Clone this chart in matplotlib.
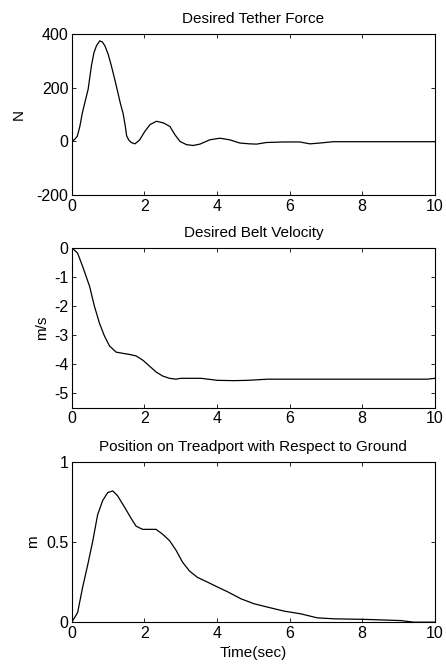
import numpy as np
import matplotlib
matplotlib.use("Agg")
import matplotlib.pyplot as plt

plt.rcParams['font.family'] = ['Liberation Sans', 'DejaVu Sans']

# Desired tether force (N)
force_t = [0, 0.08, 0.15, 0.22, 0.29, 0.37, 0.45, 0.54, 0.61, 0.68, 0.77, 0.84, 0.91, 1.0, 1.09,
           1.18, 1.27, 1.34, 1.41, 1.47, 1.51, 1.57, 1.64, 1.74,
           1.87, 2.01, 2.15, 2.33, 2.52, 2.70, 2.84, 2.98, 3.16, 3.34, 3.53, 3.80, 4.08, 4.35,
           4.63, 4.90, 5.09, 5.36, 5.82, 6.28, 6.56, 6.83, 7.20, 10.0]
force_N = [0, 8, 19, 55, 106, 150, 194, 281, 330, 356, 374, 370, 356, 325, 281,
           232, 181, 140, 106, 60, 21, 5, -4, -9,
           6, 37, 62, 75, 69, 56, 25, 0, -12, -15, -10, 6, 12, 6,
           -6, -9, -10, -4, -2, -2, -9, -6, -1, -1]

# Desired belt velocity (m/s)
vel_t = [0, 0.16, 0.30, 0.49, 0.62, 0.76, 0.90, 1.04, 1.22, 1.40, 1.59, 1.77, 1.96, 2.14,
         2.32, 2.50, 2.69, 2.87, 3.00, 3.56, 4.01, 4.47, 4.84, 5.39, 7.22, 9.79, 10.0]
vel_ms = [0, -0.19, -0.65, -1.33, -2.0, -2.59, -3.04, -3.38, -3.59, -3.63, -3.67, -3.72, -3.87, -4.07,
          -4.27, -4.41, -4.49, -4.52, -4.49, -4.49, -4.56, -4.57, -4.56, -4.52, -4.52, -4.52, -4.49]

# Position on treadport (m)
pos_t = [0, 0.16, 0.30, 0.44, 0.58, 0.71, 0.85, 0.99, 1.13, 1.26, 1.45, 1.63, 1.77, 1.95,
         2.14, 2.32, 2.50, 2.69, 2.87, 3.05, 3.24, 3.46, 3.74, 4.01, 4.29, 4.66, 5.02, 5.39,
         5.85, 6.31, 6.76, 7.22, 8.14, 9.06, 9.42, 10.0]
pos_m = [0, 0.06, 0.22, 0.36, 0.51, 0.67, 0.76, 0.81, 0.82, 0.79, 0.72, 0.65, 0.60, 0.58,
         0.58, 0.58, 0.55, 0.51, 0.45, 0.375, 0.32, 0.28, 0.25, 0.22, 0.19, 0.146, 0.115, 0.094,
         0.069, 0.052, 0.027, 0.021, 0.017, 0.01, 0.0, 0.0]

fig = plt.figure(figsize=(4.46, 6.64), dpi=100)
ax1 = fig.add_axes([0.161, 0.706, 0.814, 0.243])
ax2 = fig.add_axes([0.161, 0.386, 0.814, 0.241])
ax3 = fig.add_axes([0.161, 0.063, 0.814, 0.241])

panels = [
    (ax1, force_t, force_N, 'Desired Tether Force', 'N', (-200, 400), [-200, 0, 200, 400], -0.128),
    (ax2, vel_t, vel_ms, 'Desired Belt Velocity', 'm/s', (-5.5, 0), [-5, -4, -3, -2, -1, 0], -0.062),
    (ax3, pos_t, pos_m, 'Position on Treadport with Respect to Ground', 'm', (0, 1), [0, 0.5, 1], -0.088),
]

for ax, t, y, title, ylab, ylim, yt, lx in panels:
    ax.plot(t, y, color='black', linewidth=0.9)
    ax.set_xlim(0, 10)
    ax.set_ylim(*ylim)
    ax.set_xticks([0, 2, 4, 6, 8, 10])
    ax.set_yticks(yt)
    ax.set_yticklabels(['%g' % v for v in yt])
    ax.tick_params(direction='in', top=True, right=True, length=3, width=0.6, labelsize=11.5, pad=2.5)
    ax.set_title(title, fontsize=11, pad=8)
    ax.set_ylabel(ylab, fontsize=11)
    ax.yaxis.set_label_coords(lx, 0.5)
    for s in ax.spines.values():
        s.set_linewidth(0.8)

ax3.set_xlabel('Time(sec)', fontsize=11, labelpad=4)

fig.savefig('out.png', dpi=100)
